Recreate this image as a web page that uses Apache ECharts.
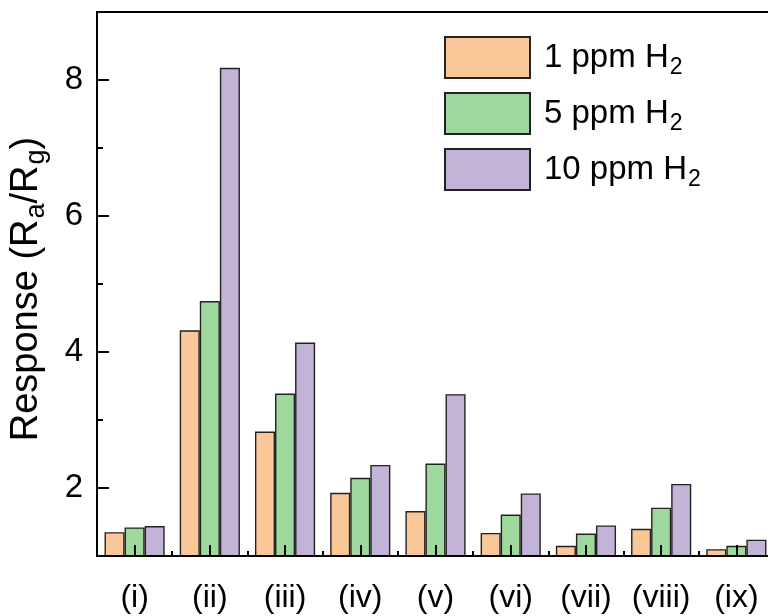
<!DOCTYPE html>
<html>
<head>
<meta charset="utf-8">
<script src="https://cdn.jsdelivr.net/npm/echarts@6/dist/echarts.min.js"></script>
<style>
  html, body { margin: 0; padding: 0; background: #fff; }
  #chart { width: 768px; height: 616px; }
</style>
</head>
<body>
<div id="chart"></div>
<script>
// samples
var categories = ['(i)', '(ii)', '(iii)', '(iv)', '(v)', '(vi)', '(vii)', '(viii)', '(ix)'];
var ppm1 = [1.35, 4.32, 2.83, 1.93, 1.66, 1.34, 1.15, 1.40, 1.10];
var ppm5 = [1.42, 4.75, 3.39, 2.15, 2.36, 1.61, 1.33, 1.71, 1.15];
var ppm10 = [1.44, 8.18, 4.14, 2.34, 3.38, 1.92, 1.45, 2.06, 1.24];
var majorTicks = [2, 4, 6, 8];
var minorTicks = [3, 5, 7];

var font = 'Liberation Sans, Arial, sans-serif';
var chart = echarts.init(document.getElementById('chart'));

function barSeries(name, data, color) {
  return {
    name: name,
    type: 'bar',
    data: data,
    barGap: '0%',
    barCategoryGap: '20%',
    itemStyle: {
      color: color,
      borderColor: '#222',
      borderWidth: 1.4
    }
  };
}

var option = {
  animation: false,
  textStyle: { fontFamily: font, color: '#000' },
  grid: {
    left: 97,
    top: 12,
    width: 677,
    bottom: 60,
    outerBoundsMode: 'none',
    containLabel: false,
    show: true,
    borderColor: '#000',
    borderWidth: 2
  },
  legend: {
    orient: 'vertical',
    left: 439,
    top: 31,
    itemWidth: 85,
    itemHeight: 41,
    itemGap: 12.5,
    icon: 'rect',
    selectedMode: false,
    formatter: function (name) {
      return '{t|' + name + '}{s|2}';
    },
    textStyle: {
      padding: [0, 0, 0, 9],
      rich: {
        t: { fontSize: 33, fontFamily: font, color: '#000' },
        s: { fontSize: 23, fontFamily: font, color: '#000', padding: [21, 0, 0, 1] }
      }
    }
  },
  xAxis: [{
    type: 'category',
    data: categories,
    z: 10,
    axisLine: { lineStyle: { color: '#000', width: 2 } },
    axisTick: { show: true, alignWithLabel: true, inside: true, length: 11, lineStyle: { color: '#000', width: 2 } },
    axisLabel: { interval: 0, fontSize: 32, color: '#000', margin: 26, fontFamily: font }
  }, {
    type: 'category',
    data: categories,
    position: 'bottom',
    z: 10,
    axisLine: { show: false },
    axisTick: { show: true, inside: true, length: 5, lineStyle: { color: '#000', width: 2 } },
    axisLabel: { show: false }
  }],
  yAxis: [{
    type: 'value',
    min: 1,
    max: 9,
    z: 10,
    name: '{t|Response (R}{s|a}{t|/R}{s|g}{t|)}',
    nameLocation: 'middle',
    nameRotate: 90,
    nameGap: 47,
    nameTextStyle: {
      padding: [0, 10, 0, 0],
      rich: {
        t: { fontSize: 38, fontFamily: font, color: '#000' },
        s: { fontSize: 27, fontFamily: font, color: '#000', padding: [20, 0, 0, 1] }
      }
    },
    splitLine: { show: false },
    axisLine: { show: true, lineStyle: { color: '#000', width: 2 } },
    axisTick: { show: true, inside: true, length: 12, customValues: majorTicks, lineStyle: { color: '#000', width: 2 } },
    axisLabel: { fontSize: 33, color: '#000', margin: 14, fontFamily: font, customValues: majorTicks }
  }, {
    type: 'value',
    min: 1,
    max: 9,
    position: 'left',
    z: 10,
    splitLine: { show: false },
    axisLine: { show: false },
    axisTick: { show: true, inside: true, length: 6, customValues: minorTicks, lineStyle: { color: '#000', width: 2 } },
    axisLabel: { show: false }
  }],
  series: [
    barSeries('1 ppm H', ppm1, '#FAC898'),
    barSeries('5 ppm H', ppm5, '#9FD89D'),
    barSeries('10 ppm H', ppm10, '#C2B3D7')
  ]
};

chart.setOption(option);
</script>
</body>
</html>
